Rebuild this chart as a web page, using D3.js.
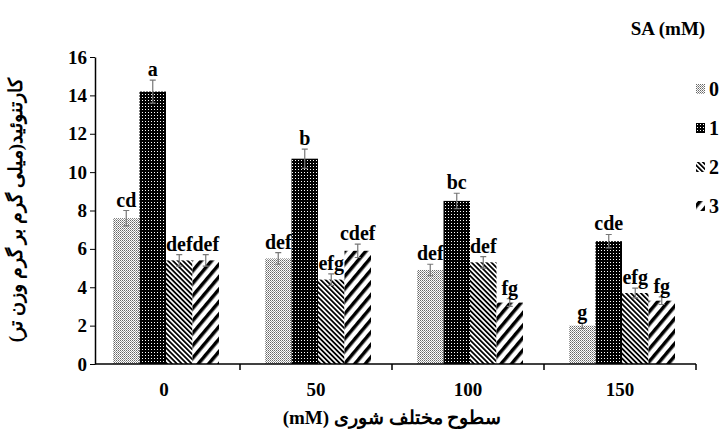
<!DOCTYPE html>
<html><head><meta charset="utf-8">
<script src="https://cdn.jsdelivr.net/npm/d3@7"></script>
<style>body{margin:0;background:#fff}text{font-family:"Liberation Serif","DejaVu Serif",serif;font-weight:bold}</style>
</head><body><svg id="c" width="724" height="437"></svg>
<script>
const categories=["0","50","100","150"];
const seriesNames=["0","1","2","3"];
const s0=[7.6,5.5,4.9,2.0];
const s1=[14.2,10.7,8.5,6.4];
const s2=[5.4,4.4,5.3,3.7];
const s3=[5.4,5.9,3.2,3.3];
const err0=[0.4,0.3,0.3,0.15];
const err1=[0.6,0.5,0.4,0.35];
const err2=[0.3,0.3,0.3,0.25];
const err3=[0.3,0.35,0.2,0.2];
const letters0=["cd","def","def","g"];
const letters1=["a","b","bc","cde"];
const letters2=["def","efg","def","efg"];
const letters3=["def","cdef","fg","fg"];
const yTicks=[0,2,4,6,8,10,12,14,16];
const vals=[s0,s1,s2,s3],errs=[err0,err1,err2,err3],lets=[letters0,letters1,letters2,letters3];
const svg=d3.select("#c");
const defs=svg.append("defs");
let p=defs.append("pattern").attr("id","p0").attr("width",2).attr("height",2).attr("patternUnits","userSpaceOnUse");
p.append("rect").attr("width",2).attr("height",2).attr("fill","#fff");
p.append("rect").attr("width",1).attr("height",1).attr("fill","#666");
p.append("rect").attr("x",1).attr("y",1).attr("width",1).attr("height",1).attr("fill","#999");
p=defs.append("pattern").attr("id","p1").attr("width",3).attr("height",3).attr("patternUnits","userSpaceOnUse");
p.append("rect").attr("width",3).attr("height",3).attr("fill","#000");
p.append("rect").attr("x",1).attr("y",1).attr("width",1).attr("height",1).attr("fill","#fff");
p=defs.append("pattern").attr("id","p2").attr("width",3.5).attr("height",4).attr("patternUnits","userSpaceOnUse").attr("patternTransform","rotate(-45)");
p.append("rect").attr("width",4).attr("height",4).attr("fill","#fff");
p.append("rect").attr("width",1.8).attr("height",4).attr("fill","#000");
p=defs.append("pattern").attr("id","p3").attr("width",8).attr("height",8).attr("patternUnits","userSpaceOnUse").attr("patternTransform","rotate(40)");
p.append("rect").attr("width",8).attr("height",8).attr("fill","#fff");
p.append("rect").attr("width",3.5).attr("height",8).attr("fill","#000");
const x=d3.scaleBand().domain(categories).range([88,696]);
const xi=d3.scaleBand().domain(seriesNames).range([25,131]);
const y=d3.scaleLinear().domain([0,16]).range([364,57]);
const g=svg.append("g");
seriesNames.forEach((s,si)=>{
 categories.forEach((c,ci)=>{
  const v=vals[si][ci],e=errs[si][ci];
  const bx=x(c)+xi(s),bw=xi.bandwidth(),cx=bx+bw/2;
  g.append("rect").attr("x",bx).attr("y",y(v)).attr("width",bw).attr("height",y(0)-y(v)).attr("fill",`url(#p${si})`);
  g.append("path").attr("d",`M${cx},${y(v+e)}V${y(v-e)}M${cx-3},${y(v+e)}H${cx+3}M${cx-3},${y(v-e)}H${cx+3}`).attr("stroke","#777").attr("stroke-width",1.2).attr("fill","none");
  g.append("text").attr("x",cx).attr("y",y(v+e)-4).attr("text-anchor","middle").attr("font-size",20).text(lets[si][ci]);
 });
});
const ya=svg.append("g").attr("transform","translate(95,0)").call(d3.axisLeft(y).tickValues(yTicks).tickSize(5).tickSizeOuter(0));
ya.selectAll("text").attr("font-size",19).attr("fill","#000");
ya.select(".domain").attr("stroke","#000").attr("stroke-width",1.5);
const xa=svg.append("g").attr("transform","translate(0,364)");
xa.append("line").attr("x1",95).attr("x2",696).attr("stroke","#000").attr("stroke-width",1.5);
categories.forEach((c,i)=>{
 if(i>0) xa.append("line").attr("x1",x(c)).attr("x2",x(c)).attr("y1",0).attr("y2",6).attr("stroke","#000").attr("stroke-width",1.5);
 xa.append("text").attr("x",x(c)+x.bandwidth()/2).attr("y",32).attr("text-anchor","middle").attr("font-size",19).text(c);
});
xa.append("line").attr("x1",x.range()[1]).attr("x2",x.range()[1]).attr("y1",0).attr("y2",6).attr("stroke","#000").attr("stroke-width",1.5);
svg.append("text").attr("x",392).attr("y",424).attr("text-anchor","middle").attr("font-size",19).attr("direction","rtl").text("سطوح مختلف شوری (mM)");
svg.append("text").attr("transform","translate(22,210) rotate(-90)").attr("text-anchor","middle").attr("font-size",19).attr("direction","rtl").text("کارتنوئید(میلی گرم بر گرم وزن تر)");
svg.append("text").attr("x",668).attr("y",35).attr("text-anchor","middle").attr("font-size",19).text("SA (mM)");
seriesNames.forEach((s,i)=>{
 const ly=89+i*39;
 svg.append("rect").attr("x",696).attr("y",ly-5).attr("width",9).attr("height",10).attr("fill",`url(#p${i})`);
 svg.append("text").attr("x",709).attr("y",ly+7).attr("font-size",20).text(s);
});
</script></body></html>
